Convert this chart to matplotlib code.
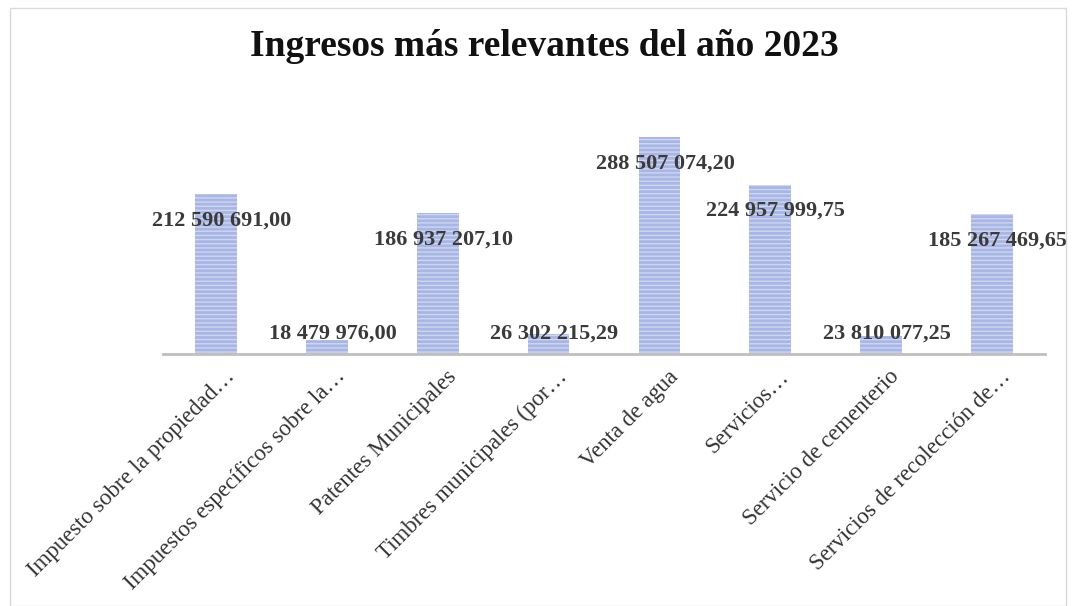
import matplotlib
matplotlib.use("Agg")
import matplotlib.pyplot as plt
import matplotlib.transforms as mtransforms
from matplotlib.patches import Rectangle

categories = [
    "Impuesto sobre la propiedad…",
    "Impuestos específicos sobre la…",
    "Patentes Municipales",
    "Timbres municipales (por…",
    "Venta de agua",
    "Servicios…",
    "Servicio de cementerio",
    "Servicios de recolección de…",
]
values = [212590691.00, 18479976.00, 186937207.10, 26302215.29,
          288507074.20, 224957999.75, 23810077.25, 185267469.65]
value_labels = ["212 590 691,00", "18 479 976,00", "186 937 207,10", "26 302 215,29",
                "288 507 074,20", "224 957 999,75", "23 810 077,25", "185 267 469,65"]
title = "Ingresos más relevantes del año 2023"

plt.rcParams['hatch.linewidth'] = 1.0
fig = plt.figure(figsize=(10.76, 6.06), dpi=100)
fig.patches.append(Rectangle((10/1076, 0), 1 - 20/1076, 1 - 8/606, transform=fig.transFigure,
                             fill=False, edgecolor="#d9d9d9", linewidth=1))

ax = fig.add_axes([163/1076, 1 - 354/606, (1045 - 163)/1076, (354 - 113)/606])
x = range(len(values))
bars = ax.bar(x, values, width=0.375, color="#a9b6e3", edgecolor="#cdd6f3",
              linewidth=0, hatch="----")
ax.set_xlim(-0.48, len(values) - 0.52)
ax.set_ylim(0, 320e6)
for s in ["top", "right", "left"]:
    ax.spines[s].set_visible(False)
ax.spines["bottom"].set_color("#bfbfbf")
ax.spines["bottom"].set_linewidth(2)
ax.set_yticks([])
ax.set_xticks(list(x))
ax.tick_params(axis="x", length=0, pad=0)
offset = mtransforms.ScaledTranslation(8/100, -12/100, fig.dpi_scale_trans)
ax.set_xticklabels(categories, rotation=45, ha="right", rotation_mode="anchor",
                   fontfamily="Liberation Serif", fontsize=16.5, color="#333333")
for lbl in ax.get_xticklabels():
    lbl.set_transform(lbl.get_transform() + offset)

for i, (v, t) in enumerate(zip(values, value_labels)):
    if v > 50e6:
        ax.annotate(t, (i, v), xytext=(4, -19), textcoords="offset points",
                    ha="center", va="center", fontfamily="Liberation Serif",
                    fontweight="bold", fontsize=16, color="#3a3a3a")
    else:
        ax.annotate(t, (i, 0), xytext=(4, 15), textcoords="offset points",
                    ha="center", va="center", fontfamily="Liberation Serif",
                    fontweight="bold", fontsize=16, color="#3a3a3a")

fig.text(544/1076, 1 - 46/606, title, ha="center", va="center",
         fontfamily="Liberation Serif", fontweight="bold", fontsize=27, color="#111111")

fig.savefig("out.png", dpi=100)
